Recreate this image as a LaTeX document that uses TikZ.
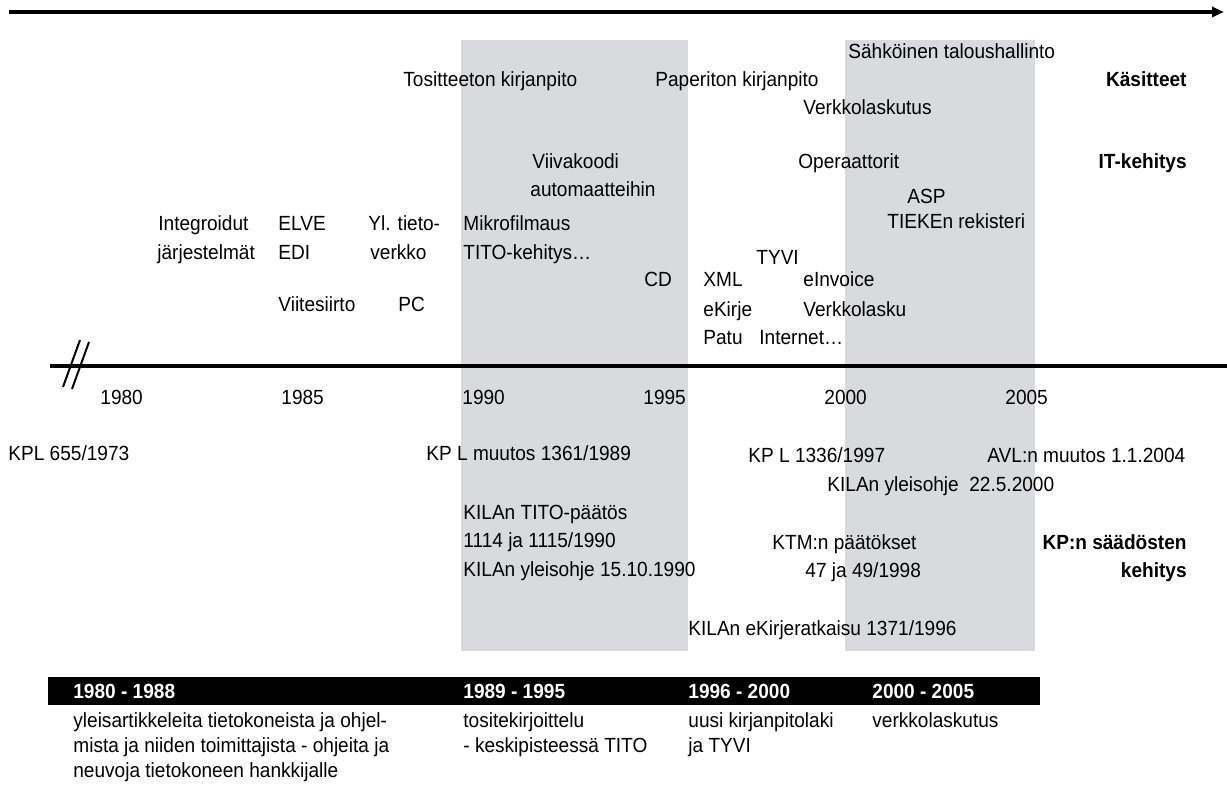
\documentclass[tikz,border=0pt]{standalone}
\usepackage{fontspec}
\usetikzlibrary{arrows.meta}
\setmainfont{Liberation Sans}[FakeStretch=0.93]
\definecolor{bandgray}{RGB}{217,218,220}

\begin{document}
\begin{tikzpicture}[x=0.5pt, y=-0.5pt, >={Triangle[length=6pt, width=5pt]},
  every node/.style={inner sep=0pt, font=\fontsize{10.25}{12}\selectfont},
  lbl/.style={anchor=base west},
  head/.style={anchor=base east, font=\fontsize{10.25}{12}\selectfont\bfseries},
  barlbl/.style={anchor=base west, text=white, font=\fontsize{10.25}{12}\selectfont\bfseries}]
  \useasboundingbox (0,0) rectangle (1227,791);

  % Gray bands
  \fill[bandgray] (461,40) rectangle (688,651);
  \fill[bandgray] (845,40) rectangle (1035,651);

  % Time arrow and time line
  \coordinate (ta) at (9,12);
  \coordinate (tb) at (1224,12);
  \draw[->, line width=1.6pt] (ta) -- (tb);
  \coordinate (la) at (50,366);
  \coordinate (lb) at (1227,366);
  \draw[line width=2pt] (la) -- (lb);
  \draw[line width=1pt] (63,387) -- (80,340);
  \draw[line width=1pt] (72,389) -- (89,342);

  % Years
  \foreach \yr in {1980,1985,...,2005}
    \node[lbl] (y\yr) at ({100+(\yr-1980)*36.2},404) {\yr};

  % --- Käsitteet ---
  \node[lbl] (sahko) at (848,59) {Sähköinen taloushallinto};
  \node[lbl] (tosit) at (403,87) {Tositteeton kirjanpito};
  \node[lbl] (paper) at (655,87) {Paperiton kirjanpito};
  \node[lbl] (vlaskutus) at (803,115) {Verkkolaskutus};
  \node[head] (kasit) at (1187,87) {Käsitteet};

  % --- IT-kehitys ---
  \node[lbl] (viiva) at (532,169) {Viivakoodi};
  \node[lbl] (autom) at (530,197) {automaatteihin};
  \node[lbl] (oper) at (798,169) {Operaattorit};
  \node[head] (itkeh) at (1187,169) {IT-kehitys};
  \node[lbl] (asp) at (907,204) {ASP};
  \node[lbl] (tieke) at (887,229) {TIEKEn rekisteri};
  \node[lbl] (integ) at (158,231) {Integroidut};
  \node[lbl] (jarj) at (157,260) {järjestelmät};
  \node[lbl] (elve) at (278,231) {ELVE};
  \node[lbl] (edi) at (278,260) {EDI};
  \node[lbl] (ylt) at (368,231) {Yl. tieto-};
  \node[lbl] (verkko) at (370,260) {verkko};
  \node[lbl] (mikro) at (463,231) {Mikrofilmaus};
  \node[lbl] (tito) at (463,260) {TITO-kehitys…};
  \node[lbl] (tyvi) at (756,265) {TYVI};
  \node[lbl] (cd) at (644,287) {CD};
  \node[lbl] (xml) at (703,287) {XML};
  \node[lbl] (einv) at (803,287) {eInvoice};
  \node[lbl] (viite) at (278,312) {Viitesiirto};
  \node[lbl] (pc) at (398,312) {PC};
  \node[lbl] (ekirje) at (703,317) {eKirje};
  \node[lbl] (vlasku) at (803,317) {Verkkolasku};
  \node[lbl] (patu) at (703,345) {Patu};
  \node[lbl] (inet) at (759,345) {Internet…};

  % --- KP:n säädösten kehitys ---
  \node[lbl] (kpl73) at (8,460) {KPL 655/1973};
  \node[lbl] (kpl89) at (426,460) {KP L muutos 1361/1989};
  \node[lbl] (kpl97) at (748,462) {KP L 1336/1997};
  \node[lbl] (avl) at (987,462) {AVL:n muutos 1.1.2004};
  \node[lbl] (kyl00) at (827,491) {KILAn yleisohje \ 22.5.2000};
  \node[lbl] (titop) at (463,519) {KILAn TITO-päätös};
  \node[lbl] (t1114) at (463,547) {1114 ja 1115/1990};
  \node[lbl] (kyl90) at (463,576) {KILAn yleisohje 15.10.1990};
  \node[lbl] (ktm) at (772,549) {KTM:n päätökset};
  \node[lbl] (ktm47) at (805,577) {47 ja 49/1998};
  \node[head] (saad) at (1187,549) {KP:n säädösten};
  \node[head] (kehit) at (1187,577) {kehitys};
  \node[lbl] (ekr) at (688,635) {KILAn eKirjeratkaisu 1371/1996};

  % --- Periods ---
  \fill[black] (48,677) rectangle (1040,705);
  \node[barlbl] (p80) at (73,698) {1980 - 1988};
  \node[barlbl] (p89) at (463,698) {1989 - 1995};
  \node[barlbl] (p96) at (688,698) {1996 - 2000};
  \node[barlbl] (p00) at (872,698) {2000 - 2005};
  \node[lbl] (d80a) at (73,727) {yleisartikkeleita tietokoneista ja ohjel-};
  \node[lbl] (d80b) at (73,752) {mista ja niiden toimittajista - ohjeita ja};
  \node[lbl] (d80c) at (73,777) {neuvoja tietokoneen hankkijalle};
  \node[lbl] (d89a) at (463,727) {tositekirjoittelu};
  \node[lbl] (d89b) at (463,752) {- keskipisteessä TITO};
  \node[lbl] (d96a) at (688,727) {uusi kirjanpitolaki};
  \node[lbl] (d96b) at (688,752) {ja TYVI};
  \node[lbl] (d00a) at (872,727) {verkkolaskutus};
\end{tikzpicture}
\end{document}
